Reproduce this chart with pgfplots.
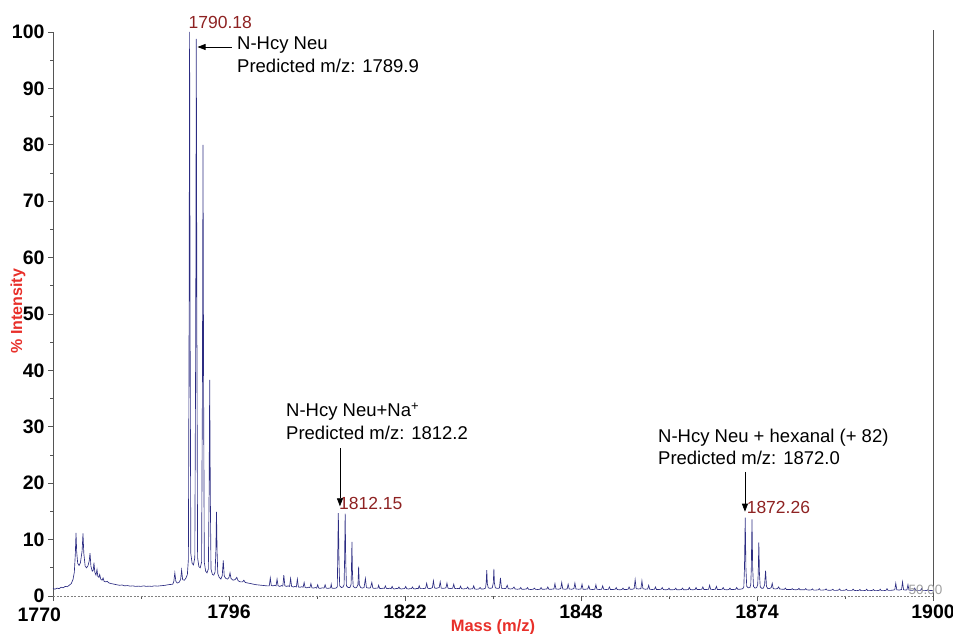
\documentclass[border=0pt]{standalone}
\usepackage{pgfplots}
\pgfplotsset{compat=1.18}
\usetikzlibrary{arrows.meta}
\usepackage{fontspec}
\setmainfont{Liberation Sans}
\definecolor{specblue}{HTML}{2C2C82}
\definecolor{labelred}{HTML}{E8302A}
\definecolor{peakred}{HTML}{8E2222}
\definecolor{axisgray}{HTML}{555555}
\begin{document}
\begin{tikzpicture}
\useasboundingbox (0,0) rectangle (953pt,634pt);
\begin{axis}[
  at={(53pt,38pt)}, anchor=south west,
  scale only axis, width=880pt, height=564pt,
  xmin=1770, xmax=1900, ymin=0, ymax=100,
  enlargelimits=false, clip=false,
  axis line style={draw=none},
  tick pos=left, tick align=outside,
  xtick={1770,1796,1822,1848,1874,1900},
  xticklabels={\makebox[0pt][r]{\rule{0pt}{17pt}1770\hspace*{-8pt}},1796,1822,1848,1874,1900},
  minor x tick num=1,
  ytick={0,10,...,100},
  minor y tick num=1,
  major tick length=5pt, minor tick length=3pt,
  tick style={axisgray, line width=0.6pt},
  /pgf/number format/assume math mode=true,
  ticklabel style={font=\fontsize{19.5}{22}\selectfont\bfseries, text=black},
  xlabel={Mass (m/z)}, ylabel={\% Intensity},
  every axis x label/.style={at={(axis description cs:0.5,-0.0638)}, anchor=base,
    font=\fontsize{16.5}{18}\selectfont\bfseries, text=labelred},
  every axis y label/.style={at={(axis description cs:-0.0352,0.505)}, rotate=90, anchor=base,
    font=\fontsize{16}{18}\selectfont\bfseries, text=labelred},
]
% frame: solid sides, dashed zero line
\draw[axisgray, line width=0.7pt] (axis cs:1770,-0.6) -- (axis cs:1770,100);
\draw[axisgray, line width=0.7pt] (axis cs:1900,-0.8) -- (axis cs:1900,100.4);
\draw[gray, line width=0.6pt, dash pattern=on 2pt off 1.5pt] (axis cs:1770,0) -- (axis cs:1900,0);

% profile spectrum
\addplot[specblue, line width=0.65pt, mark=none] coordinates {
(1770.0,1.35) (1770.3,1.2) (1770.6,1.4) (1770.9,1.3) (1771.2,1.55) (1771.5,1.45) (1771.8,1.7) (1772.1,1.65)
(1772.4,1.9) (1772.7,2.2) (1772.95,2.9) (1773.15,4.2) (1773.3,7.5) (1773.4,11.2) (1773.5,7.8) (1773.65,5.8)
(1773.85,5.4) (1774.05,5.9) (1774.3,8.0) (1774.43,11.1) (1774.55,7.6) (1774.75,5.3) (1774.95,5.0) (1775.15,5.3)
(1775.35,6.2) (1775.47,7.6) (1775.6,5.3) (1775.8,4.4) (1775.95,4.6) (1776.05,5.9) (1776.18,4.2) (1776.35,3.7)
(1776.5,4.7) (1776.62,3.5) (1776.78,3.3) (1776.9,3.8) (1777.05,3.0) (1777.25,2.8) (1777.4,3.2) (1777.55,2.6)
(1777.8,2.5) (1778.0,2.6) (1778.3,2.3) (1778.6,2.2) (1779.0,2.1) (1779.4,2.0) (1779.8,1.9) (1780.2,1.95)
(1780.6,1.8) (1781.0,1.85) (1781.4,1.75) (1781.8,1.8) (1782.2,1.7) (1782.6,1.75) (1783.0,1.7) (1783.4,1.8)
(1783.8,1.7) (1784.2,1.75) (1784.6,1.7) (1785.0,1.8) (1785.4,1.75) (1785.8,1.8) (1786.2,1.85) (1786.6,1.9)
(1787.0,2.0) (1787.4,2.05) (1787.7,2.1) (1787.85,2.6) (1788.0,4.1) (1788.15,2.6) (1788.35,2.3) (1788.6,2.4)
(1788.85,2.9) (1789.0,4.6) (1789.15,2.9) (1789.4,2.8) (1789.65,3.2) (1789.85,3.8) (1790.0,6.5) (1790.1,45)
(1790.18,100) (1790.26,45) (1790.36,7.5) (1790.55,5.8) (1790.75,5.5) (1790.95,6.8) (1791.08,45) (1791.17,98.8)
(1791.26,45) (1791.36,6.8) (1791.55,5.2) (1791.75,5.0) (1791.95,6.0) (1792.07,36) (1792.16,80.0) (1792.25,36)
(1792.35,6.0) (1792.55,4.4) (1792.75,4.1) (1792.95,4.8) (1793.06,18) (1793.15,38.3) (1793.24,18) (1793.34,4.8)
(1793.55,3.8) (1793.75,3.7) (1793.95,4.3) (1794.06,8) (1794.15,14.9) (1794.24,8) (1794.34,4.0) (1794.55,3.3)
(1794.8,3.0) (1795.0,3.6) (1795.15,6.3) (1795.3,3.5) (1795.55,3.1) (1795.8,3.0) (1796.0,3.3) (1796.15,4.1)
(1796.3,3.1) (1796.6,2.8) (1796.9,2.9) (1797.15,3.3) (1797.35,2.7) (1797.7,2.5) (1798.0,2.5) (1798.2,2.8)
(1798.4,2.4) (1798.8,2.3) (1799.2,2.2) (1799.6,2.1) (1800.0,2.0) (1800.4,1.95) (1800.8,1.9) (1801.2,1.85)
(1801.6,1.8) (1801.95,1.8) (1802.1,3.2) (1802.25,1.85) (1802.5,1.8) (1802.75,1.9) (1802.95,1.8) (1803.1,3.0)
(1803.25,1.8) (1803.5,1.7) (1803.75,1.85) (1803.95,1.75) (1804.1,3.7) (1804.25,1.8) (1804.5,1.7) (1804.75,1.8)
(1804.95,1.7) (1805.1,3.1) (1805.25,1.7) (1805.5,1.6) (1805.75,1.7) (1805.95,1.6) (1806.1,3.0) (1806.25,1.6)
(1806.5,1.55) (1806.75,1.65) (1806.95,1.55) (1807.1,2.4) (1807.25,1.5) (1807.5,1.45) (1807.75,1.55) (1807.95,1.5)
(1808.1,2.2) (1808.25,1.45) (1808.5,1.4) (1808.75,1.5) (1808.95,1.4) (1809.1,2.0) (1809.25,1.4) (1809.5,1.35)
(1809.75,1.45) (1810.05,1.4) (1810.2,2.0) (1810.35,1.4) (1810.6,1.35) (1810.85,1.4) (1811.0,1.45) (1811.1,2.1)
(1811.2,1.4) (1811.5,1.35) (1811.8,1.4) (1812.0,1.6) (1812.05,6) (1812.15,14.7) (1812.25,6) (1812.35,1.8)
(1812.6,1.5) (1812.85,1.6) (1813.0,2.0) (1813.07,6) (1813.16,14.6) (1813.25,6) (1813.35,1.8) (1813.6,1.5)
(1813.85,1.5) (1814.03,2.0) (1814.08,4) (1814.16,9.6) (1814.24,4) (1814.35,1.7) (1814.6,1.45) (1814.85,1.5)
(1815.05,2.0) (1815.15,5.2) (1815.25,2.0) (1815.45,1.5) (1815.7,1.4) (1815.95,1.5) (1816.15,3.1) (1816.3,1.5)
(1816.6,1.4) (1816.9,1.45) (1817.1,2.4) (1817.25,1.4) (1817.5,1.35) (1817.8,1.4) (1818.0,1.4) (1818.1,1.9)
(1818.25,1.35) (1818.5,1.3) (1818.75,1.4) (1818.95,1.35) (1819.1,1.8) (1819.25,1.35) (1819.5,1.3) (1819.75,1.4)
(1819.95,1.3) (1820.1,1.7) (1820.25,1.3) (1820.5,1.25) (1820.75,1.35) (1820.95,1.3) (1821.1,1.6) (1821.25,1.3)
(1821.5,1.25) (1821.75,1.3) (1821.95,1.3) (1822.1,1.7) (1822.25,1.3) (1822.5,1.25) (1822.75,1.3) (1822.95,1.3)
(1823.1,1.6) (1823.25,1.3) (1823.5,1.25) (1823.75,1.35) (1823.95,1.3) (1824.1,1.8) (1824.25,1.3) (1824.6,1.3)
(1824.9,1.35) (1825.05,1.4) (1825.2,2.25) (1825.35,1.4) (1825.6,1.3) (1825.9,1.4) (1826.05,1.5) (1826.2,2.7)
(1826.35,1.45) (1826.6,1.35) (1826.9,1.45) (1827.05,1.5) (1827.2,2.5) (1827.35,1.4) (1827.6,1.35) (1827.9,1.4)
(1828.05,1.45) (1828.2,2.3) (1828.35,1.4) (1828.6,1.3) (1828.9,1.35) (1829.05,1.4) (1829.2,2.1) (1829.35,1.35)
(1829.6,1.3) (1829.9,1.35) (1830.05,1.3) (1830.2,1.75) (1830.35,1.3) (1830.6,1.25) (1830.9,1.3) (1831.1,1.3)
(1831.25,1.6) (1831.4,1.25) (1831.7,1.25) (1832.0,1.3) (1832.15,1.8) (1832.3,1.25) (1832.6,1.2) (1832.9,1.25)
(1833.1,1.5) (1833.25,1.25) (1833.6,1.25) (1833.9,1.4) (1834.0,2.5) (1834.08,4.6) (1834.16,2.2) (1834.3,1.45)
(1834.6,1.35) (1834.9,1.45) (1835.05,2.4) (1835.13,4.8) (1835.21,2.3) (1835.35,1.45) (1835.6,1.35) (1835.95,1.4)
(1836.1,3.2) (1836.25,1.4) (1836.55,1.3) (1836.9,1.35) (1837.1,1.9) (1837.25,1.3) (1837.6,1.25) (1837.9,1.3)
(1838.1,1.6) (1838.25,1.25) (1838.6,1.2) (1838.95,1.25) (1839.1,1.5) (1839.25,1.2) (1839.6,1.2) (1839.95,1.25)
(1840.1,1.5) (1840.25,1.2) (1840.6,1.15) (1840.95,1.2) (1841.1,1.4) (1841.25,1.2) (1841.6,1.15) (1841.95,1.2)
(1842.1,1.5) (1842.25,1.2) (1842.6,1.2) (1842.95,1.25) (1843.1,1.6) (1843.25,1.2) (1843.6,1.2) (1844.0,1.25)
(1844.15,2.2) (1844.3,1.25) (1844.65,1.2) (1845.0,1.3) (1845.15,2.4) (1845.3,1.25) (1845.65,1.2) (1845.95,1.25)
(1846.1,2.1) (1846.25,1.25) (1846.6,1.2) (1846.95,1.3) (1847.1,2.3) (1847.25,1.25) (1847.65,1.2) (1848.0,1.25)
(1848.15,2.1) (1848.3,1.2) (1848.65,1.2) (1849.0,1.25) (1849.15,1.8) (1849.3,1.2) (1849.7,1.15) (1850.05,1.2)
(1850.2,2.0) (1850.35,1.2) (1850.7,1.15) (1851.05,1.2) (1851.2,1.8) (1851.35,1.2) (1851.7,1.15) (1852.05,1.2)
(1852.2,1.6) (1852.35,1.15) (1852.7,1.15) (1853.05,1.2) (1853.2,1.5) (1853.35,1.15) (1853.7,1.1) (1854.05,1.15)
(1854.2,1.4) (1854.35,1.15) (1854.7,1.15) (1854.95,1.2) (1855.1,1.6) (1855.25,1.2) (1855.6,1.2) (1855.85,1.3)
(1856.0,2.9) (1856.15,1.3) (1856.5,1.25) (1856.85,1.3) (1857.0,2.7) (1857.15,1.3) (1857.5,1.2) (1857.85,1.25)
(1858.0,1.9) (1858.15,1.2) (1858.5,1.15) (1858.85,1.2) (1859.0,1.6) (1859.15,1.15) (1859.5,1.15) (1859.85,1.2)
(1860.0,1.5) (1860.15,1.15) (1860.5,1.1) (1860.85,1.15) (1861.0,1.4) (1861.15,1.1) (1861.5,1.1) (1861.85,1.15)
(1862.0,1.4) (1862.15,1.1) (1862.5,1.1) (1862.85,1.15) (1863.0,1.4) (1863.15,1.1) (1863.5,1.1) (1863.85,1.15)
(1864.0,1.5) (1864.15,1.15) (1864.5,1.1) (1864.85,1.15) (1865.0,1.5) (1865.15,1.15) (1865.5,1.15) (1865.85,1.2)
(1866.0,1.6) (1866.15,1.15) (1866.5,1.15) (1866.85,1.2) (1867.0,1.9) (1867.15,1.2) (1867.5,1.15) (1867.85,1.2)
(1868.0,1.7) (1868.15,1.15) (1868.5,1.15) (1868.85,1.2) (1869.0,1.5) (1869.15,1.15) (1869.5,1.1) (1869.85,1.15)
(1870.0,1.4) (1870.15,1.15) (1870.5,1.15) (1870.85,1.2) (1871.0,1.5) (1871.15,1.2) (1871.5,1.2) (1871.9,1.3)
(1872.05,1.6) (1872.15,5) (1872.26,13.9) (1872.36,5) (1872.48,1.7) (1872.7,1.45) (1872.95,1.5) (1873.08,2.0)
(1873.16,5) (1873.26,13.6) (1873.36,5) (1873.48,1.7) (1873.7,1.4) (1873.95,1.5) (1874.1,2.0) (1874.18,4)
(1874.27,9.5) (1874.36,4) (1874.48,1.6) (1874.7,1.35) (1874.95,1.4) (1875.12,2.0) (1875.27,4.5) (1875.4,1.7)
(1875.6,1.3) (1875.9,1.35) (1876.1,1.5) (1876.25,2.25) (1876.4,1.3) (1876.7,1.25) (1877.0,1.3) (1877.2,1.6)
(1877.35,1.25) (1877.7,1.2) (1878.05,1.2) (1878.2,1.4) (1878.35,1.15) (1878.7,1.15) (1879.05,1.15) (1879.2,1.3)
(1879.35,1.15) (1879.7,1.1) (1880.05,1.15) (1880.2,1.35) (1880.35,1.1) (1880.7,1.1) (1881.05,1.1) (1881.2,1.3)
(1881.35,1.1) (1881.7,1.05) (1882.05,1.1) (1882.2,1.25) (1882.35,1.05) (1882.7,1.05) (1883.05,1.1) (1883.2,1.3)
(1883.35,1.05) (1883.7,1.05) (1884.05,1.1) (1884.2,1.25) (1884.35,1.05) (1884.7,1.0) (1885.05,1.05) (1885.2,1.2)
(1885.35,1.0) (1885.7,1.0) (1886.05,1.05) (1886.2,1.25) (1886.35,1.0) (1886.7,1.0) (1887.05,1.05) (1887.2,1.2)
(1887.35,1.0) (1887.7,1.0) (1888.05,1.0) (1888.2,1.2) (1888.35,1.0) (1888.7,0.95) (1889.05,1.0) (1889.2,1.15)
(1889.35,0.95) (1889.7,0.95) (1890.05,1.0) (1890.2,1.2) (1890.35,0.95) (1890.7,0.95) (1891.05,1.0) (1891.2,1.15)
(1891.35,0.95) (1891.7,0.95) (1892.05,1.0) (1892.2,1.2) (1892.35,0.95) (1892.7,0.95) (1893.05,1.0) (1893.2,1.3)
(1893.35,1.0) (1893.8,1.0) (1894.35,1.1) (1894.5,2.25) (1894.65,1.1) (1895.0,1.05) (1895.35,1.15) (1895.5,2.5)
(1895.65,1.1) (1896.0,1.05) (1896.15,1.1) (1896.3,2.0) (1896.45,1.05) (1896.8,1.0) (1897.15,1.05) (1897.3,1.4)
(1897.45,1.0) (1897.8,1.0) (1898.15,1.0) (1898.3,1.3) (1898.45,0.95) (1898.8,0.95) (1899.15,1.0) (1899.3,1.2)
(1899.45,0.95) (1900.0,1.0)
};

% peak labels
\node[anchor=base west, inner sep=0pt, text=peakred, font=\fontsize{17.5}{20}\selectfont] at (axis cs:1790.0,100.7) {1790.18};
\node[anchor=base west, inner sep=0pt, text=peakred, font=\fontsize{17.5}{20}\selectfont] at (axis cs:1812.25,15.25) {1812.15};
\node[anchor=base west, inner sep=0pt, text=peakred, font=\fontsize{17.5}{20}\selectfont] at (axis cs:1872.46,14.54) {1872.26};
\node[anchor=center, inner sep=0pt, text=gray!75, font=\fontsize{13.5}{15}\selectfont] at (axis cs:1898.9,1.1) {50.00};

% assignments
\begin{scope}[font=\fontsize{18.5}{21}\selectfont]
\node[anchor=base west, inner sep=0pt] at (axis cs:1797.18,96.81) {N-Hcy Neu};
\node[anchor=base west, inner sep=0pt] at (axis cs:1797.18,92.73) {Predicted m/z: 1789.9};
\node[anchor=base west, inner sep=0pt] at (axis cs:1804.42,31.74) {N-Hcy Neu+Na\textsuperscript{+}};
\node[anchor=base west, inner sep=0pt] at (axis cs:1804.42,27.66) {Predicted m/z: 1812.2};
\node[anchor=base west, inner sep=0pt] at (axis cs:1859.37,27.30) {N-Hcy Neu + hexanal (+ 82)};
\node[anchor=base west, inner sep=0pt] at (axis cs:1859.37,23.40) {Predicted m/z: 1872.0};
\end{scope}
\draw[line width=0.7pt, -{Triangle[length=8pt,width=6pt]}] (axis cs:1796.44,97.34) -- (axis cs:1791.35,97.34);
\draw[line width=0.7pt, -{Triangle[length=8pt,width=6pt]}] (axis cs:1812.39,26.2) -- (axis cs:1812.39,15.9);
\draw[line width=0.7pt, -{Triangle[length=8pt,width=6pt]}] (axis cs:1872.22,22.0) -- (axis cs:1872.22,14.95);
\end{axis}
\end{tikzpicture}
\end{document}
